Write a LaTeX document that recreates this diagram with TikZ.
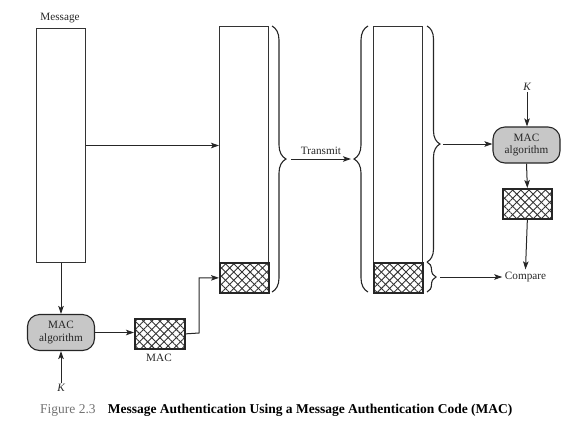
\documentclass[tikz,border=0pt]{standalone}
\usepackage{fontspec}
\setmainfont{Liberation Serif}
\usetikzlibrary{arrows.meta,patterns.meta,decorations.pathreplacing}
\begin{document}
\begin{tikzpicture}[x=1pt,y=-1pt,
  lbl/.style={font=\fontsize{11.2}{13}\selectfont, inner sep=1pt, text=black!85},
  plainbox/.style={draw=black!80, line width=1pt, inner sep=0pt, anchor=north west},
  hatchbox/.style={draw=black!85, line width=1.7pt, inner sep=0pt, anchor=north west,
     preaction={pattern={Lines[angle=45,distance=5.8pt,line width=0.9pt]}, pattern color=black!80},
     preaction={pattern={Lines[angle=-45,distance=5.8pt,line width=0.9pt]}, pattern color=black!80}},
  macalg/.style={draw=black!85, line width=1.1pt, fill=black!22, rounded corners=12pt,
     minimum width=67pt, minimum height=36pt, inner sep=0pt, align=center,
     font=\fontsize{11.2}{12.5}\selectfont, text=black!85},
  arr/.style={draw=black!85, line width=1pt, -{Stealth[length=8pt,width=5.5pt,inset=1.8pt]}},
  brc/.style={draw=black!85, line width=1.1pt, decorate}
]
\useasboundingbox (0,0) rectangle (575,432);

% sender side
\node[lbl] (msglbl) at (60,18) {Message};
\node[plainbox, minimum width=49pt, minimum height=234pt] (msg) at (36,28) {};
\node[macalg] (mac1) at (61,332.5) {MAC\\algorithm};
\node[lbl, font=\fontsize{11.2}{13}\selectfont\itshape] (k1) at (61,388) {K};
\node[hatchbox, minimum width=50pt, minimum height=30pt] (h1) at (134,318) {};
\node[lbl] (maclbl) at (159,358) {MAC};

% transmitted block 1
\node[plainbox, minimum width=49pt, minimum height=236pt] (b1) at (219,26) {};
\node[hatchbox, minimum width=49pt, minimum height=30pt] (b1m) at (219,262) {};

% transmitted block 2
\node[plainbox, minimum width=49pt, minimum height=236pt] (b2) at (373,26) {};
\node[hatchbox, minimum width=49pt, minimum height=30pt] (b2m) at (373,262) {};

% receiver side
\node[lbl, font=\fontsize{11.2}{13}\selectfont\itshape] (k2) at (527,87) {K};
\node[macalg] (mac2) at (526.5,145) {MAC\\algorithm};
\node[hatchbox, minimum width=49pt, minimum height=30pt] (h2) at (502,188) {};
\node[lbl, inner sep=2.5pt] (cmp) at (525.5,277) {Compare};

% braces
\draw[brc, decoration={brace, amplitude=14pt}] (272,26) -- (272,292);
\draw[brc, decoration={brace, amplitude=14pt}] (368,292) -- (368,26);
\draw[brc, decoration={brace, amplitude=13pt}] (427,26) -- (427,262);
\draw[brc, decoration={brace, amplitude=9pt}] (427,262) -- (427,292);
\coordinate (t1) at (291,159);
\coordinate (t2) at (351,159);
\coordinate (t3) at (443,144);
\coordinate (t4) at (440,277);
\coordinate (turn) at (199,333);

% connectors
\draw[arr] (msg.east) -- (msg.east -| b1.west);
\draw[arr] (msg.south) -- (mac1.north);
\draw[arr] (k1.north) -- (mac1.south);
\draw[arr] (mac1.east) -- (mac1.east -| h1.west);
\draw[arr] (h1.east) -- (turn) |- (b1m.west);
\draw[arr] (t1) -- node[lbl, above=3pt] (tx) {Transmit} (t2);
\draw[arr] (t3) -- (t3 -| mac2.west);
\draw[arr] (k2.south) -- (mac2.north -| k2.south);
\draw[arr] (mac2.south) -- (h2.north);
\draw[arr] (h2.south) -- (cmp.north);
\draw[arr] (t4) -- (cmp.west);

% caption
\node[anchor=west, inner sep=0pt, font=\fontsize{13.5}{15}\selectfont] (cap) at (40,410)
  {\textcolor{black!55}{Figure 2.3}\hspace{0.9em}\textbf{Message Authentication Using a Message Authentication Code (MAC)}};
\end{tikzpicture}
\end{document}
